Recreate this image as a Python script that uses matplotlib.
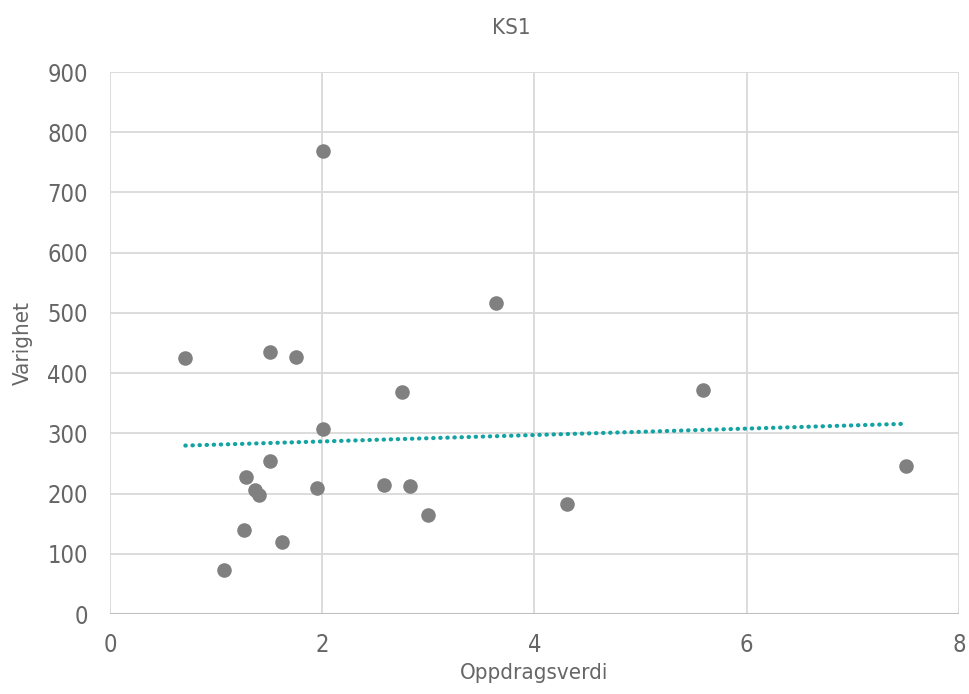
import numpy as np
import matplotlib.pyplot as plt

# data
oppdragsverdi = [0.71, 2.01, 3.64, 1.51, 1.75, 2.75, 5.59, 2.01, 1.51, 1.28, 1.37,
                 1.40, 1.95, 2.58, 2.83, 3.00, 4.31, 7.50, 1.26, 1.62, 1.07]
varighet = [425, 769, 517, 435, 427, 369, 372, 307, 254, 228, 206,
            198, 209, 214, 213, 164, 183, 246, 140, 120, 73]

plt.rcParams['font.family'] = ['DejaVu Sans']
plt.rcParams['font.stretch'] = 'condensed'

fig = plt.figure(figsize=(9.7, 6.94), dpi=100)
ax = fig.add_axes([110/970, 1 - 614/694, 849/970, 542/694])

x = np.array(oppdragsverdi)
y = np.array(varighet)

# linear trendline
k, m = np.polyfit(x, y, 1)
xt = np.array([x.min(), x.max()])
ax.plot(xt, k*xt + m, color='#13a3a3', linestyle=(0, (0.1, 1.6)), linewidth=3,
        dash_capstyle='round', zorder=2)

ax.scatter(x, y, s=110, color='#808080', zorder=3, linewidths=0)

ax.set_xlim(0, 8)
ax.set_ylim(0, 900)
ax.set_xticks(range(0, 9, 2))
ax.set_yticks(range(0, 901, 100))
ax.grid(True, color='#d9d9d9', linewidth=1.3)
ax.set_axisbelow(True)
for s in ax.spines.values():
    s.set_visible(False)
ax.axhline(0, color='#bfbfbf', linewidth=1.5, zorder=1)
ax.tick_params(length=0, labelsize=17, labelcolor='#666666')
ax.tick_params(axis='y', pad=16)
ax.tick_params(axis='x', pad=14)

ax.set_xlabel('Oppdragsverdi', fontsize=16, color='#666666', labelpad=4)
ax.set_ylabel('Varighet', fontsize=16, color='#666666', labelpad=10)
fig.text(0.527, 0.96, 'KS1', ha='center', va='center', fontsize=16, color='#666666')

fig.savefig('out.png', dpi=100)
